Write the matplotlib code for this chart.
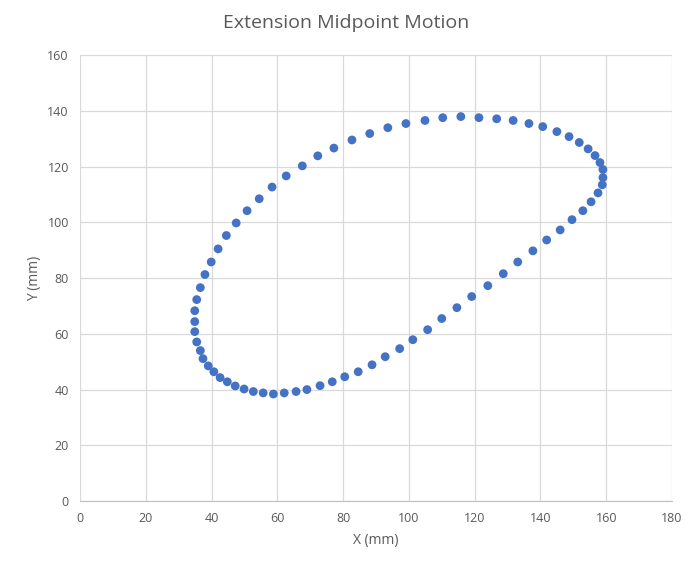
import numpy as np
import matplotlib
matplotlib.use('Agg')
import matplotlib.pyplot as plt

### Data (mm)
x_mm = [34.9, 34.9, 34.9, 35.5, 36.6, 38.0, 39.9, 42.0, 44.5, 47.5,
        50.8, 54.5, 58.4, 62.7, 67.6, 72.3, 77.2, 82.7, 88.1, 93.6,
        99.1, 104.9, 110.3, 115.8, 121.3, 126.7, 131.7, 136.5, 140.7, 145.0,
        148.7, 151.8, 154.5, 156.6, 158.1, 159.0, 159.0, 158.8, 157.5, 155.4,
        152.9, 149.6, 146.0, 141.9, 137.7, 133.1, 128.7, 124.0, 119.1, 114.6,
        110.0, 105.7, 101.2, 97.2, 92.8, 88.8, 84.6, 80.5, 76.7, 73.0,
        69.0, 65.7, 62.1, 58.8, 55.7, 52.7, 49.9, 47.2, 44.8, 42.6,
        40.7, 39.0, 37.4, 36.6, 35.5]
y_mm = [60.8, 64.4, 68.3, 72.3, 76.6, 81.3, 85.8, 90.5, 95.3, 99.8,
        104.2, 108.5, 112.7, 116.7, 120.3, 123.9, 126.7, 129.6, 131.9, 134.0,
        135.5, 136.6, 137.6, 138.0, 137.6, 137.2, 136.6, 135.5, 134.4, 132.6,
        130.8, 128.7, 126.4, 124.0, 121.5, 119.0, 116.1, 113.5, 110.6, 107.4,
        104.2, 101.0, 97.3, 93.7, 89.8, 85.8, 81.6, 77.3, 73.4, 69.4,
        65.5, 61.5, 57.9, 54.7, 51.8, 48.9, 46.4, 44.6, 42.8, 41.4,
        40.0, 39.3, 38.8, 38.4, 38.8, 39.3, 40.2, 41.3, 42.8, 44.3,
        46.4, 48.5, 51.1, 54.0, 57.1]

x_ticks = list(range(0, 181, 20))
y_ticks = list(range(0, 161, 20))

plt.rcParams['font.family'] = ['Open Sans', 'DejaVu Sans']
txt = '#595959'

fig = plt.figure(figsize=(6.93, 5.67), dpi=100)
ax = fig.add_axes([0.1154, 0.1164, 0.8543, 0.7861])

ax.scatter(x_mm, y_mm, s=40, color='#4472C4', edgecolors='none', zorder=3)

ax.set_xlim(0, 180)
ax.set_ylim(0, 160)
ax.set_xticks(x_ticks)
ax.set_yticks(y_ticks)
ax.grid(True, color='#d9d9d9', linewidth=0.9)
ax.set_axisbelow(True)

for s in ['top', 'right', 'left']:
    ax.spines[s].set_visible(False)
ax.spines['bottom'].set_color('#bfbfbf')
ax.tick_params(length=0, labelsize=9, colors=txt, pad=8)

ax.set_xlabel('X (mm)', fontsize=10, color=txt, labelpad=6)
ax.set_ylabel('Y (mm)', fontsize=10, color=txt, labelpad=4)
fig.suptitle('Extension Midpoint Motion', fontsize=14, color=txt, y=0.975)

fig.savefig('out.png', dpi=100)
